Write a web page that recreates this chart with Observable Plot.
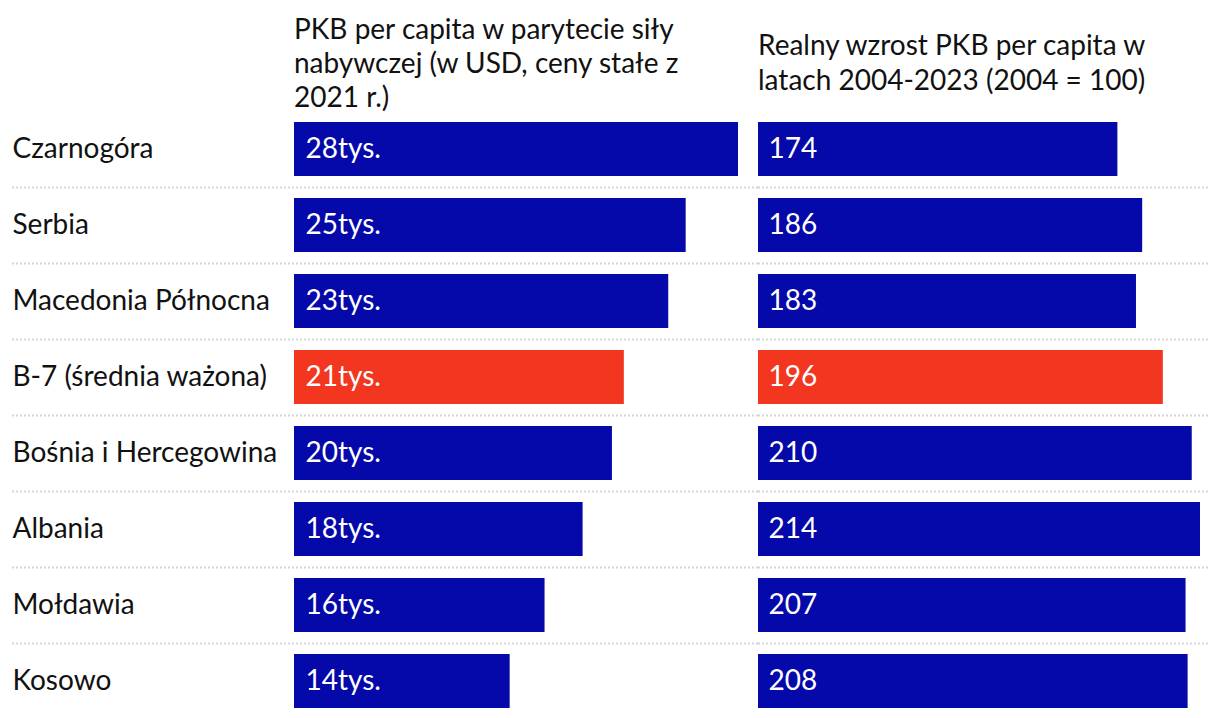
<!DOCTYPE html>
<html>
<head>
<meta charset="utf-8">
<script src="https://cdn.jsdelivr.net/npm/d3@7"></script>
<script src="https://cdn.jsdelivr.net/npm/@observablehq/plot@0.6"></script>
<style>
  html, body { margin: 0; padding: 0; background: #fff; }
  body { width: 1220px; height: 718px; overflow: hidden; font-family: Lato, "Noto Sans", sans-serif; color: #111; }
  #wrap { position: relative; width: 1220px; height: 718px; }
  .hdr { position: absolute; font-size: 28px; line-height: 34px; color: #111; white-space: nowrap; }
  #plots { position: absolute; left: 0; top: 111px; display: flex; }
  svg { display: block; overflow: visible; }
</style>
</head>
<body>
<div id="wrap">
  <div class="hdr" id="h1" style="left:294px; top:11px"></div>
  <div class="hdr" id="h2" style="left:758px; top:27px; line-height:35px"></div>
  <div id="plots"></div>
</div>
<script>
const countries = ["Czarnogóra", "Serbia", "Macedonia Północna", "B-7 (średnia ważona)", "Bośnia i Hercegowina", "Albania", "Mołdawia", "Kosowo"];
const gdpPpp = [28.0, 24.7, 23.6, 20.8, 20.05, 18.2, 15.8, 13.6];           // thousand USD
const gdpPppShown = [28, 25, 23, 21, 20, 18, 16, 14];                      // labels as printed
const growth = [174, 186, 183, 196, 210, 214, 207, 208];                   // 2004 = 100
const highlight = "B-7 (średnia ważona)";
const header1 = ["PKB per capita w parytecie siły", "nabywczej (w USD, ceny stałe z", "2021 r.)"];
const header2 = ["Realny wzrost PKB per capita w", "latach 2004-2023 (2004 = 100)"];

const BLUE = "#0509aa";
const RED = "#f2361f";
const FONT = "Lato, 'Noto Sans', sans-serif";

document.getElementById("h1").innerHTML = header1.join("<br>");
document.getElementById("h2").innerHTML = header2.join("<br>");

const rows = countries.map((c, i) => ({
  name: c, gdp: gdpPpp[i], gdpLabel: gdpPppShown[i] + "tys.", growth: growth[i], hi: c === highlight
}));

const H = 607;
const yScale = {domain: countries, range: [0, 608], paddingInner: 0.29, paddingOuter: 0.145, align: 0.5, axis: null};
const step = 608 / countries.length;
const sepRows = rows.slice(0, rows.length - 1);
const sepStyle = {stroke: "#d6d6d6", strokeWidth: 2, strokeDasharray: "2,2", dy: step / 2};

const p1 = Plot.plot({
  width: 758, height: H,
  marginLeft: 12, marginRight: 0, marginTop: 0, marginBottom: 0,
  style: {fontFamily: FONT, background: "transparent", overflow: "visible"},
  x: {domain: [0, 28.0], range: [294, 738], axis: null},
  y: yScale,
  marks: [
    Plot.ruleY(sepRows, {y: "name", ...sepStyle}),
    Plot.barX(rows, {y: "name", x: "gdp", fill: d => d.hi ? RED : BLUE}),
    Plot.text(rows, {y: "name", x: 0, text: "gdpLabel", textAnchor: "start", dx: 11, fill: "white", fontSize: 28}),
    Plot.text(rows, {y: "name", text: "name", frameAnchor: "left", textAnchor: "start", fill: "#111", fontSize: 28})
  ]
});

const p2 = Plot.plot({
  width: 462, height: H,
  marginLeft: 0, marginRight: 12, marginTop: 0, marginBottom: 0,
  style: {fontFamily: FONT, background: "transparent", overflow: "visible"},
  x: {domain: [0, 214], range: [0, 442], axis: null},
  y: yScale,
  marks: [
    Plot.ruleY(sepRows, {y: "name", ...sepStyle}),
    Plot.barX(rows, {y: "name", x: "growth", fill: d => d.hi ? RED : BLUE}),
    Plot.text(rows, {y: "name", x: 0, text: d => String(d.growth), textAnchor: "start", dx: 10, fill: "white", fontSize: 28})
  ]
});

document.getElementById("plots").append(p1, p2);
</script>
</body>
</html>
